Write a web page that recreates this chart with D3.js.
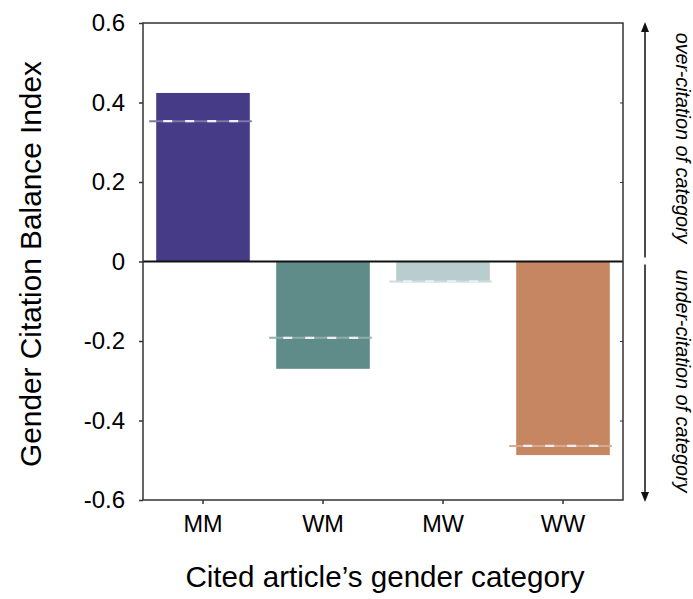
<!DOCTYPE html>
<html>
<head>
<meta charset="utf-8">
<script src="https://cdn.jsdelivr.net/npm/d3@7"></script>
<style>
  html, body { margin: 0; padding: 0; background: #fff; }
  svg { display: block; font-family: "Liberation Sans", Arial, Helvetica, sans-serif; }
</style>
</head>
<body>
<svg id="chart" width="693" height="599"></svg>
<script>
// ---- data ----
const categories = ["MM", "WM", "MW", "WW"];
const balanceValues = [0.424, -0.270, -0.052, -0.487];
const expectedValues = [0.353, -0.192, -0.050, -0.464];
const barColors = ["#463B87", "#5F8B88", "#B9CDCF", "#C68662"];
const yTicks = [-0.6, -0.4, -0.2, 0, 0.2, 0.4, 0.6];
const yTitle = "Gender Citation Balance Index";
const xTitle = "Cited article\u2019s gender category";
const overLabel = "over-citation of category";
const underLabel = "under-citation of category";

// ---- layout ----
const svg = d3.select("#chart");
const pL = 143, pR = 623, pT = 23, pB = 500;

const x = d3.scaleBand().domain(categories).range([pL, pR])
  .paddingInner(0.22).paddingOuter(0.11);
const y = d3.scaleLinear().domain([-0.6, 0.6]).range([pB, pT]);

const data = categories.map((c, i) => ({
  cat: c, value: balanceValues[i], expected: expectedValues[i], color: barColors[i]
}));

// bars
svg.append("g").selectAll("rect").data(data).join("rect")
  .attr("x", d => x(d.cat))
  .attr("width", x.bandwidth())
  .attr("y", d => y(Math.max(0, d.value)))
  .attr("height", d => Math.abs(y(d.value) - y(0)))
  .attr("fill", d => d.color);

// expected (dashed) lines
const dl = svg.append("g");
dl.selectAll("line.base").data(data).join("line")
  .attr("class", "base")
  .attr("x1", d => x(d.cat) - 7)
  .attr("x2", d => x(d.cat) + x.bandwidth() + 2)
  .attr("y1", d => y(d.expected)).attr("y2", d => y(d.expected))
  .attr("stroke", d => d3.interpolateRgb(d.color, "#ffffff")(0.3))
  .attr("stroke-width", 2);
dl.selectAll("line.dash").data(data).join("line")
  .attr("class", "dash")
  .attr("x1", d => x(d.cat) + 7)
  .attr("x2", d => x(d.cat) + x.bandwidth() - 4)
  .attr("y1", d => y(d.expected)).attr("y2", d => y(d.expected))
  .attr("stroke", "#EEEEF6")
  .attr("stroke-width", 2.2)
  .attr("stroke-dasharray", "9,13");

// zero line
svg.append("line")
  .attr("x1", pL).attr("x2", pR)
  .attr("y1", y(0)).attr("y2", y(0))
  .attr("stroke", "#111").attr("stroke-width", 2);

// frame
svg.append("rect")
  .attr("x", pL).attr("y", pT)
  .attr("width", pR - pL).attr("height", pB - pT)
  .attr("fill", "none").attr("stroke", "#333").attr("stroke-width", 1.5);

// left axis (ticks outward)
const yAxis = svg.append("g").attr("transform", `translate(${pL},0)`)
  .call(d3.axisLeft(y).tickValues(yTicks).tickSize(4).tickPadding(14)
    .tickFormat(d => d === 0 ? "0" : d.toFixed(1)));
yAxis.select(".domain").remove();
yAxis.selectAll(".tick line").attr("stroke", "#333").attr("stroke-width", 1.5);
yAxis.selectAll(".tick text").attr("font-size", 24).attr("fill", "#000")
  .attr("font-family", "Liberation Sans, Arial, sans-serif");

// right inner ticks
const yAxisR = svg.append("g").attr("transform", `translate(${pR},0)`)
  .call(d3.axisLeft(y).tickValues(yTicks.filter(t => Math.abs(t) < 0.6 && t !== 0)).tickSize(3).tickFormat(""));
yAxisR.select(".domain").remove();
yAxisR.selectAll(".tick line").attr("stroke", "#333").attr("stroke-width", 1);

// bottom axis
const xAxis = svg.append("g").attr("transform", `translate(0,${pB})`)
  .call(d3.axisBottom(x).tickSize(4).tickPadding(11));
xAxis.select(".domain").remove();
xAxis.selectAll(".tick line").attr("stroke", "#333").attr("stroke-width", 1.5);
xAxis.selectAll(".tick text").attr("font-size", 23.5).attr("fill", "#000")
  .attr("font-family", "Liberation Sans, Arial, sans-serif");

// titles
svg.append("text")
  .attr("transform", "translate(41,264) rotate(-90)")
  .attr("text-anchor", "middle")
  .attr("font-size", 29.8).attr("fill", "#000")
  .text(yTitle);

svg.append("text")
  .attr("x", (pL + pR) / 2 + 2).attr("y", 587)
  .attr("text-anchor", "middle")
  .attr("font-size", 29.6).attr("fill", "#000")
  .text(xTitle);

// side annotations
svg.append("text")
  .attr("transform", "translate(676,138) rotate(90)")
  .attr("text-anchor", "middle")
  .attr("font-size", 19.8).attr("font-style", "italic").attr("fill", "#000")
  .text(overLabel);
svg.append("text")
  .attr("transform", "translate(676,381) rotate(90)")
  .attr("text-anchor", "middle")
  .attr("font-size", 19.8).attr("font-style", "italic").attr("fill", "#000")
  .text(underLabel);

// arrows
const ax = 645;
const arr = svg.append("g").attr("stroke", "#111").attr("fill", "#111");
arr.append("line").attr("x1", ax).attr("x2", ax).attr("y1", y(0) - 4).attr("y2", pT + 8).attr("stroke-width", 1.5);
arr.append("path").attr("d", `M${ax},${pT - 1} L${ax - 4},${pT + 9} L${ax + 4},${pT + 9} Z`).attr("stroke", "none");
arr.append("line").attr("x1", ax).attr("x2", ax).attr("y1", y(0) + 3).attr("y2", pB - 6).attr("stroke-width", 1.5);
arr.append("path").attr("d", `M${ax},${pB + 2} L${ax - 4},${pB - 8} L${ax + 4},${pB - 8} Z`).attr("stroke", "none");
</script>
</body>
</html>
